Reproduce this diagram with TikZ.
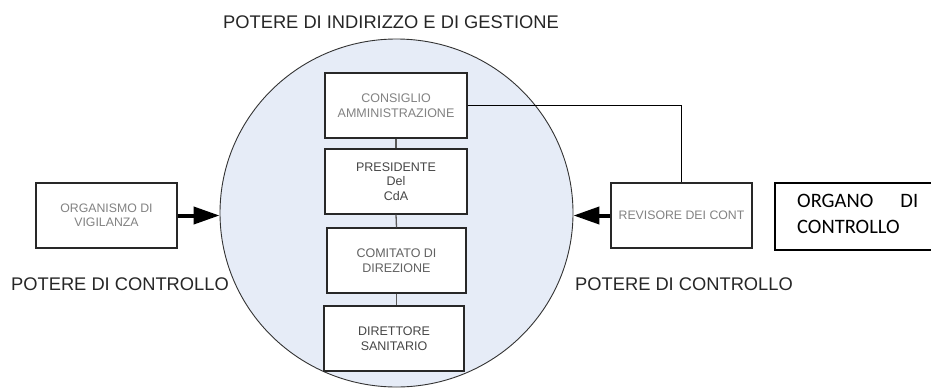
\documentclass[tikz,border=0pt]{standalone}
\usepackage{fontspec}
\setmainfont{Liberation Sans}
\newfontfamily\calib{Carlito}
\usetikzlibrary{shapes.geometric,arrows.meta}
\definecolor{circfill}{RGB}{230,236,247}
\definecolor{lightgraytext}{RGB}{130,130,130}
\definecolor{darktext}{RGB}{70,70,70}
\definecolor{boxline}{RGB}{40,40,40}
\tikzset{
  inbox/.style={draw=boxline, line width=1.1pt, fill=white, minimum width=142, minimum height=65, inner sep=0, align=center, font=\fontsize{12.5}{14.5}\selectfont},
  sidebox/.style={draw=boxline, line width=1.1pt, fill=white, minimum width=141, minimum height=65, inner sep=0, align=center, font=\fontsize{12.3}{13.5}\selectfont, text=lightgraytext},
  biglabel/.style={font=\fontsize{18.3}{20}\selectfont, text=black!85, inner sep=0, anchor=west},
  link/.style={draw=black!65, line width=1.3pt},
  bigarrow/.style={line width=4pt, -{Triangle[length=26pt,width=17pt]}},
}
\begin{document}
\begin{tikzpicture}[x=1pt,y=-1pt]
\useasboundingbox[fill=white] (0,0) rectangle (931,388);
\node[ellipse, draw=black!80, line width=0.9pt, fill=circfill, minimum width=353, minimum height=348, inner sep=0] (circ) at (396.5,213) {};
\node[biglabel] (title) at (223,22) {POTERE DI INDIRIZZO E DI GESTIONE};
\node[biglabel] (pcl) at (11,284) {POTERE DI CONTROLLO};
\node[biglabel] (pcr) at (575,284) {POTERE DI CONTROLLO};
\node[inbox, text=lightgraytext] (cons) at (396,105.5) {CONSIGLIO\\AMMINISTRAZIONE};
\node[inbox, text=darktext] (pres) at (396,181.5) {PRESIDENTE\\Del\\CdA};
\node[inbox, minimum width=139, text=darktext!85] (com) at (396.5,260.5) {COMITATO DI\\DIREZIONE};
\node[inbox, minimum width=140, text=darktext] (dir) at (394,338.5) {DIRETTORE\\SANITARIO};
\draw[link] (cons.south) -- (pres.north);
\draw[link] (pres.south) -- (com.north);
\draw[link] (com.south) -- (com.south |- dir.north);
\node[sidebox] (org) at (106.5,215.5) {ORGANISMO DI\\VIGILANZA};
\node[sidebox] (rev) at (681.5,215.5) {REVISORE DEI CONT};
\draw[line width=1pt] (cons.east) -| (rev.north);
\draw[bigarrow] (org.east) -- (circ.west |- org.east);
\draw[bigarrow] (rev.west) -- (circ.east |- rev.west);
\node[draw=black, line width=2pt, minimum width=170, minimum height=67, inner sep=0] (organo) at (860,216) {};
\node[font=\calib\fontsize{20.5}{26}\selectfont, anchor=north west, inner sep=0, align=left] (organotxt) at (797,194) {\makebox[121pt][s]{ORGANO\hfill DI}\\CONTROLLO};
\end{tikzpicture}
\end{document}
